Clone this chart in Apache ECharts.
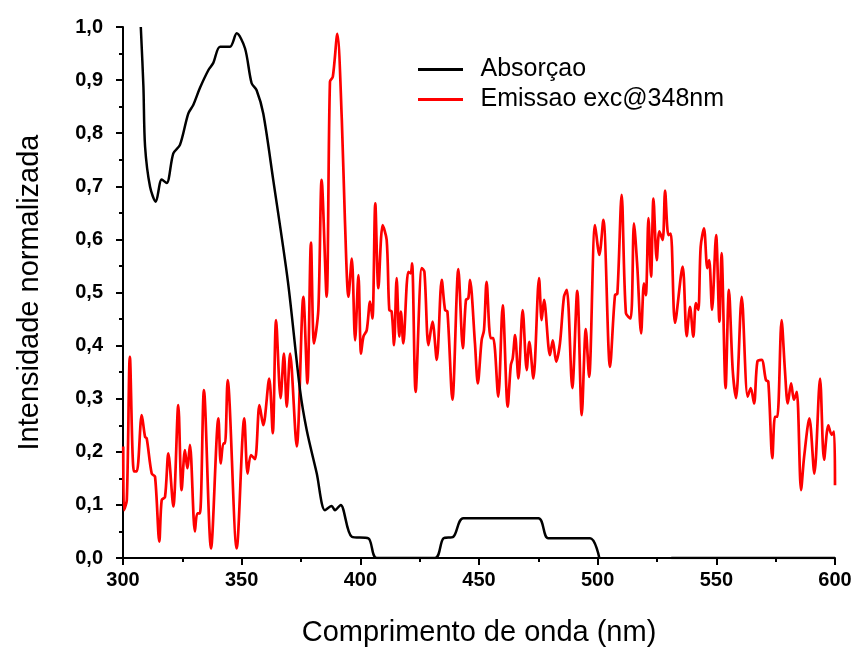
<!DOCTYPE html>
<html>
<head>
<meta charset="utf-8">
<script src="https://cdn.jsdelivr.net/npm/echarts@6/dist/echarts.min.js"></script>
<style>
html,body{margin:0;padding:0;background:#fff;}
#chart{width:858px;height:648px;}
</style>
</head>
<body>
<div id="chart"></div>
<script>
// Absorption series (nm, normalized intensity); '-' marks a gap in the line
var absWavelength = [307.5,308.6,309.3,311.4,313.8,316.3,318.4,321.2,324,327.5,329.6,332.4,336,338,340.9,345.1,347.9,351.4,354.2,356.3,359.1,363.3,369.5,374.6,377.4,381.6,385.1,387.9,389.3,391.7,396.4,403.4,406.9,431.5,435,439.2,443.4,475,479.2,496.8,500.7,515,531,600];
var absValue = [1.0,0.888,0.775,0.699,0.671,0.713,0.706,0.762,0.778,0.837,0.853,0.885,0.919,0.932,0.963,0.963,0.988,0.96,0.894,0.881,0.837,0.712,0.52,0.316,0.241,0.16,0.09,0.098,0.09,0.10,0.04,0.037,0,0,0.037,0.04,0.075,0.075,0.037,0.037,0,'-',0,0];

// Emission series (excitation at 348 nm)
var emWavelength = [300.1,300.4,301.6,302.9,304.6,305.8,307.9,309.3,310,312.1,313.5,315.3,316.3,317.7,319.1,321.2,323.3,324.7,326.1,327.1,328.2,330.3,331.3,332.4,334.1,337.1,340.2,341.2,342.3,343,344.1,347.9,351.1,352.5,353.9,355.6,357.5,359.1,361.6,363.1,364.5,366.4,367.8,369,370.4,373.2,376,377.7,379.2,380.5,382.3,383.7,385.8,387.2,388.4,390.3,392.2,393.5,395,396.4,397.8,399.2,400.3,401.3,402.7,404.1,405.1,406.3,407.6,409.4,411.1,412.2,413.2,414.2,415.3,416.4,417.1,418.1,420.2,421.2,421.8,423.3,425.9,427,428.7,430.4,432.2,434.3,435.7,436.7,438.8,441.3,443.2,444.5,445.5,446.2,448.3,449.5,451.1,452.1,453.2,454.9,456,458.1,460,462.1,463.4,464.2,465.2,466.6,468.4,470.1,471.2,472.9,475.3,476.4,477.4,479.9,481.1,482.5,484.1,485.8,487,489.3,491.4,493.3,495,496.4,498.9,500.7,502.4,505.2,507.3,508.3,510.1,511.9,513.9,515.3,516.7,518.3,519.5,520.3,521.4,522.5,523.5,524.9,526,527.4,528.4,529.8,530.8,532.6,535.8,537.5,538.9,540.3,541.4,542.4,543.4,544.8,546.2,547,548.2,549.9,551.3,552.2,553.9,555.3,556.9,558.3,560.7,563.2,564.5,565.9,567.3,569.1,570.9,571.9,573.6,574.7,575.7,577.5,578.9,580.1,581.5,582.7,583.9,585.7,587,589.2,591.3,593.7,595.4,597.2,598.6,599.6,600];
var emValue = [0.21,0.09,0.109,0.379,0.163,0.163,0.269,0.228,0.225,0.159,0.153,0.031,0.109,0.115,0.197,0.097,0.288,0.128,0.203,0.169,0.213,0.05,0.084,0.084,0.316,0.018,0.263,0.178,0.216,0.216,0.335,0.018,0.263,0.159,0.194,0.186,0.288,0.25,0.338,0.235,0.448,0.301,0.385,0.285,0.385,0.21,0.492,0.329,0.594,0.404,0.467,0.712,0.492,0.897,0.906,0.987,0.825,0.637,0.492,0.564,0.41,0.533,0.385,0.417,0.429,0.483,0.451,0.668,0.508,0.627,0.599,0.467,0.464,0.401,0.527,0.417,0.464,0.404,0.539,0.536,0.555,0.313,0.546,0.539,0.401,0.445,0.373,0.524,0.467,0.464,0.298,0.544,0.395,0.486,0.489,0.524,0.404,0.329,0.41,0.429,0.52,0.414,0.414,0.304,0.476,0.285,0.363,0.376,0.42,0.338,0.467,0.354,0.407,0.338,0.527,0.448,0.486,0.382,0.41,0.37,0.404,0.492,0.505,0.32,0.503,0.269,0.431,0.341,0.627,0.571,0.637,0.36,0.495,0.498,0.684,0.461,0.451,0.63,0.549,0.423,0.517,0.495,0.64,0.53,0.677,0.561,0.615,0.599,0.692,0.608,0.611,0.443,0.549,0.418,0.473,0.417,0.48,0.467,0.586,0.621,0.546,0.561,0.467,0.608,0.445,0.574,0.32,0.505,0.354,0.301,0.492,0.304,0.32,0.291,0.37,0.373,0.335,0.332,0.188,0.266,0.266,0.448,0.354,0.291,0.329,0.298,0.313,0.128,0.191,0.263,0.159,0.338,0.185,0.25,0.232,0.238,0.137];

var seriesNames = ['Absorçao', 'Emissao exc@348nm'];
var xAxisTitle = 'Comprimento de onda (nm)';
var yAxisTitle = 'Intensidade normalizada';

function pairs(xs, ys) {
  var out = [];
  for (var i = 0; i < xs.length; i++) out.push([xs[i], ys[i]]);
  return out;
}

var chart = echarts.init(document.getElementById('chart'), null, {renderer: 'canvas'});
var fontFam = '"Liberation Sans", Arial, sans-serif';
chart.setOption({
  animation: false,
  backgroundColor: '#fff',
  grid: {left: 123, right: 23, top: 27, bottom: 90, containLabel: false, outerBoundsMode: 'none'},
  legend: {
    left: 418, top: 57, orient: 'vertical', padding: 0,
    icon: 'path://M0,0H60V4H0Z',
    itemWidth: 54, itemHeight: 3, itemGap: 5,
    textStyle: {fontFamily: fontFam, fontSize: 25, color: '#000', padding: [0, 0, 0, 8]},
    data: seriesNames
  },
  xAxis: {
    type: 'value', min: 300, max: 600, interval: 50,
    name: xAxisTitle, nameLocation: 'middle', nameGap: 60,
    nameTextStyle: {fontFamily: fontFam, fontSize: 29, color: '#000'},
    axisLine: {show: true, lineStyle: {color: '#000', width: 2}},
    axisTick: {show: true, inside: false, length: 7, lineStyle: {color: '#000', width: 2}},
    minorTick: {show: true, splitNumber: 2, length: 4, lineStyle: {color: '#000', width: 2}},
    axisLabel: {fontFamily: fontFam, fontSize: 20, fontWeight: 'bold', color: '#000', margin: 12},
    splitLine: {show: false}
  },
  yAxis: {
    type: 'value', min: 0, max: 1.0, interval: 0.1,
    name: yAxisTitle, nameLocation: 'middle', nameGap: 79,
    nameTextStyle: {fontFamily: fontFam, fontSize: 29, color: '#000'},
    axisLine: {show: true, lineStyle: {color: '#000', width: 2}},
    axisTick: {show: true, inside: false, length: 7, lineStyle: {color: '#000', width: 2}},
    minorTick: {show: true, splitNumber: 2, length: 4, lineStyle: {color: '#000', width: 2}},
    axisLabel: {fontFamily: fontFam, fontSize: 20, fontWeight: 'bold', color: '#000', margin: 20,
      formatter: function (v) { return v.toFixed(1).replace('.', ','); }},
    splitLine: {show: false}
  },
  series: [
    {
      name: seriesNames[0], type: 'line', data: pairs(absWavelength, absValue),
      showSymbol: false, symbol: 'none', smooth: 0.3, connectNulls: false,
      lineStyle: {color: '#000', width: 2.5}, itemStyle: {color: '#000'}, z: 3
    },
    {
      name: seriesNames[1], type: 'line', data: pairs(emWavelength, emValue),
      showSymbol: false, symbol: 'none', smooth: 0.3,
      lineStyle: {color: '#ff0000', width: 2.7}, itemStyle: {color: '#ff0000'}, z: 2
    }
  ]
});
</script>
</body>
</html>
